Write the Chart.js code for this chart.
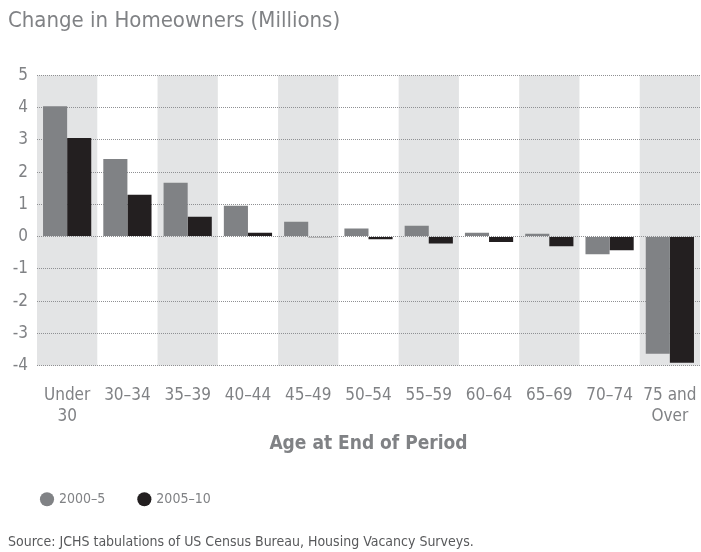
<!DOCTYPE html>
<html>
<head>
<meta charset="utf-8">
<script src="https://cdn.jsdelivr.net/npm/chart.js@4.4.1/dist/chart.umd.min.js"></script>
<style>
  html, body { margin: 0; padding: 0; background: #fff; }
  #wrap { width: 701px; height: 552px; }
</style>
</head>
<body>
<div id="wrap"><canvas id="homeChart"></canvas></div>
<script>
var FONT = "'DejaVu Sans Condensed', 'Liberation Sans Narrow', 'Roboto', sans-serif";
var TEXT_GRAY = '#808285';

var categories = [['Under', '30'], '30\u201334', '35\u201339', '40\u201344', '45\u201349', '50\u201354',
    '55\u201359', '60\u201364', '65\u201369', '70\u201374', ['75 and', 'Over']];
var series2000 = [4.04, 2.41, 1.67, 0.96, 0.46, 0.25, 0.34, 0.12, 0.09, -0.55, -3.63];
var series2005 = [3.06, 1.30, 0.62, 0.12, -0.02, -0.08, -0.21, -0.17, -0.30, -0.42, -3.91];
var seriesNames = ['2000\u20135', '2005\u201310'];
var yTicks = [5, 4, 3, 2, 1, 0, -1, -2, -3, -4];

// grey bands behind every other age group
var bandPlugin = {
    id: 'bands',
    beforeDraw: function (chart) {
        var ctx = chart.ctx;
        var area = chart.chartArea;
        var x = chart.scales.x;
        var step = (area.right - area.left) / categories.length;
        ctx.save();
        ctx.fillStyle = '#e3e4e5';
        for (var i = 0; i < categories.length; i += 2) {
            var c = x.getPixelForValue(i);
            ctx.fillRect(c - step / 2, area.top, step, area.bottom - area.top);
        }
        ctx.restore();
    }
};

new Chart(document.getElementById('homeChart').getContext('2d'), {
    type: 'bar',
    data: {
        labels: categories,
        datasets: [{
            label: seriesNames[0],
            data: series2000,
            backgroundColor: '#808285'
        }, {
            label: seriesNames[1],
            data: series2005,
            backgroundColor: '#231f20'
        }]
    },
    options: {
        responsive: true,
        maintainAspectRatio: false,
        animation: false,
        layout: { padding: { left: 8, right: 1, top: 4, bottom: 1 } },
        datasets: { bar: { categoryPercentage: 0.8, barPercentage: 1.0 } },
        scales: {
            x: {
                grid: { display: false, tickLength: 18 },
                border: { display: false },
                ticks: {
                    color: TEXT_GRAY,
                    font: { family: FONT, size: 17 },
                    maxRotation: 0,
                    autoSkip: false,
                    padding: 2
                },
                title: {
                    display: true,
                    text: 'Age at End of Period',
                    color: TEXT_GRAY,
                    font: { family: FONT, size: 19, weight: 'bold' },
                    padding: { top: 4, bottom: 3 }
                }
            },
            y: {
                min: -4,
                max: 5,
                afterFit: function (scale) { scale.width = 29; },
                afterBuildTicks: function (scale) {
                    scale.ticks = yTicks.map(function (v) { return { value: v }; });
                },
                grid: {
                    color: '#8f9093',
                    drawTicks: false,
                    lineWidth: 1
                },
                border: { display: false, dash: [1, 1] },
                ticks: {
                    color: TEXT_GRAY,
                    font: { family: FONT, size: 17 },
                    padding: 9
                }
            }
        },
        plugins: {
            title: {
                display: true,
                text: 'Change in Homeowners (Millions)',
                align: 'start',
                color: TEXT_GRAY,
                font: { family: FONT, size: 22, weight: 'normal' },
                padding: { top: 4, bottom: 41 }
            },
            subtitle: {
                display: true,
                position: 'bottom',
                text: 'Source: JCHS tabulations of US Census Bureau, Housing Vacancy Surveys.',
                align: 'start',
                color: '#58595b',
                font: { family: FONT, size: 14 },
                padding: { top: 18, bottom: 0 }
            },
            legend: {
                position: 'bottom',
                align: 'start',
                maxHeight: 86,
                labels: {
                    usePointStyle: true,
                    pointStyle: 'circle',
                    boxWidth: 10,
                    boxHeight: 10,
                    color: TEXT_GRAY,
                    font: { family: FONT, size: 14 },
                    padding: 34
                }
            },
            tooltip: { enabled: false }
        }
    },
    plugins: [bandPlugin]
});
</script>
</body>
</html>
